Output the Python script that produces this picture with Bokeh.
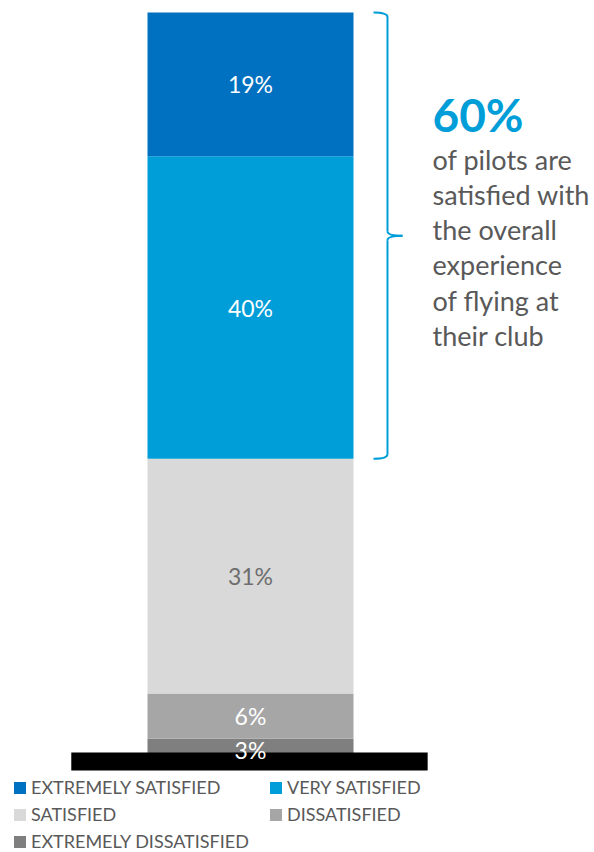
from bokeh.plotting import figure
from bokeh.models import ColumnDataSource, Range1d, Legend, LegendItem
from bokeh.core.properties import value
from bokeh.embed import file_html
from bokeh.resources import INLINE

# ---- data (bottom to top) ----
categories = ["EXTREMELY DISSATISFIED", "DISSATISFIED", "SATISFIED", "VERY SATISFIED", "EXTREMELY SATISFIED"]
values = [3, 6, 31, 40, 19]
colors = ["#7F7F7F", "#A6A6A6", "#D9D9D9", "#009ED8", "#0070C0"]
label_colors = ["#FFFFFF", "#FFFFFF", "#6E6E6E", "#FFFFFF", "#FFFFFF"]
legend_order = ["EXTREMELY SATISFIED", "VERY SATISFIED", "SATISFIED", "DISSATISFIED", "EXTREMELY DISSATISFIED"]
headline = "60%"
headline_lines = ["of pilots are", "satisfied with", "the overall", "experience", "of flying at", "their club"]

FONT = "Lato"
W, H = 594, 852

bottoms, tops = [], []
acc = 0
for v in values:
    bottoms.append(acc)
    acc += v
    tops.append(acc)
total = acc

# pixel geometry helpers
px_per_unit_y = 749 / total
y_end = total + 12 / px_per_unit_y
y_start = -(H - 761) / px_per_unit_y
bar_px = 206.0
x_start = -250 / bar_px
x_end = (W - 250) / bar_px

p = figure(width=W, height=H, output_backend="svg", toolbar_location=None,
           x_range=Range1d(x_start, x_end), y_range=Range1d(y_start, y_end),
           x_axis_location=None, y_axis_location=None, min_border=0,
           outline_line_color=None)
p.grid.visible = False
p.background_fill_color = "white"
p.border_fill_color = "white"

src = ColumnDataSource(dict(
    cat=categories, val=values, bottom=bottoms, top=tops, color=colors,
    x=[0] * len(values),
    mid=[(b + t) / 2 for b, t in zip(bottoms, tops)],
    lbl=[f"{v}%" for v in values], lcol=label_colors,
))

bars = p.vbar(x="x", bottom="bottom", top="top", width=1.0, fill_color="color",
              line_color=None, source=src)

# baseline (black thick axis bar)
p.segment(x0=[-0.87], y0=[0], x1=[0.86], y1=[0], line_color="black",
          line_width=18, line_cap="butt")

p.text(x="x", y="mid", text="lbl", text_color="lcol", source=src,
       text_align="center", text_baseline="middle",
       text_font=value(FONT), text_font_size="23px")

# curly brace over satisfied group (VERY + EXTREMELY)
b_lo = tops[2]
b_hi = tops[4]
b_mid = (b_lo + b_hi) / 2
xv, xh, xt = 0.665, 0.597, 0.738
r = 4.5 / px_per_unit_y
bc = "#009ED8"
bw = 2
p.quadratic(x0=[xh], y0=[b_hi], x1=[xv], y1=[b_hi - r], cx=[xv], cy=[b_hi],
            line_color=bc, line_width=bw)
p.segment(x0=[xv], y0=[b_hi - r], x1=[xv], y1=[b_mid + r], line_color=bc, line_width=bw)
p.quadratic(x0=[xv], y0=[b_mid + r], x1=[xt], y1=[b_mid], cx=[xv], cy=[b_mid],
            line_color=bc, line_width=bw)
p.quadratic(x0=[xt], y0=[b_mid], x1=[xv], y1=[b_mid - r], cx=[xv], cy=[b_mid],
            line_color=bc, line_width=bw)
p.segment(x0=[xv], y0=[b_mid - r], x1=[xv], y1=[b_lo + r], line_color=bc, line_width=bw)
p.quadratic(x0=[xv], y0=[b_lo + r], x1=[xh], y1=[b_lo], cx=[xv], cy=[b_lo],
            line_color=bc, line_width=bw)

# annotation text
tx = (432 - 250) / bar_px
p.text(x=[tx], y=[(761 - 114) / px_per_unit_y], text=[headline],
       text_font=value(FONT), text_font_style="bold", text_font_size="46px",
       text_color="#009ED8", text_baseline="alphabetic", text_align="left")
base0 = (761 - 158.5) / px_per_unit_y
pitch = 35.3 / px_per_unit_y
p.text(x=[tx] * len(headline_lines),
       y=[base0 - i * pitch for i in range(len(headline_lines))],
       text=headline_lines, text_font=value(FONT), text_font_size="27px",
       text_color="#595959", text_baseline="alphabetic", text_align="left")

# legend
items = [LegendItem(label=c, renderers=[bars], index=categories.index(c)) for c in legend_order]
legend = Legend(items=items, ncols=2, orientation="horizontal", location=(12, 0),
                glyph_width=15, glyph_height=15, label_standoff=4,
                label_width=232, label_height=20, spacing=5,
                label_text_font=FONT, label_text_font_size="18px",
                label_text_color="#595959", padding=0, margin=0,
                border_line_color=None, background_fill_alpha=0)
p.add_layout(legend, "center")

open("out.html", "w").write(file_html(p, INLINE))
